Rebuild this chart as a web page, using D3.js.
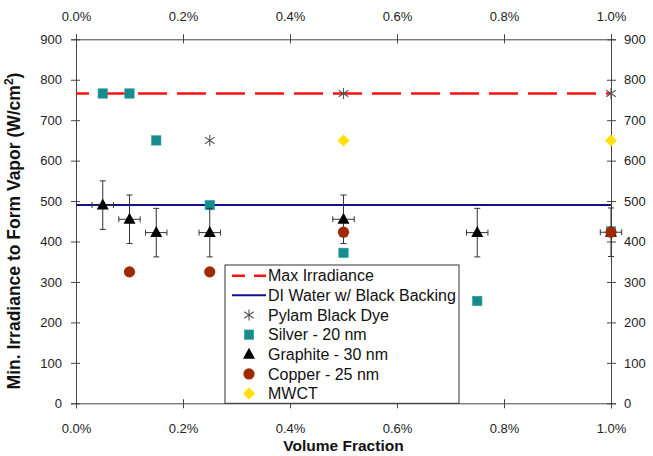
<!DOCTYPE html>
<html><head><meta charset="utf-8">
<script src="https://cdn.jsdelivr.net/npm/d3@7"></script>
<style>body{margin:0;background:#fff;} svg{display:block;font-family:"Liberation Sans",Arial,sans-serif;}</style>
</head><body><svg id="c" width="653" height="456"></svg>
<script>
// ---- data ----
const xTicks = [0, 0.002, 0.004, 0.006, 0.008, 0.010];
const yTicks = [0, 100, 200, 300, 400, 500, 600, 700, 800, 900];
const maxIrradiance = 766;
const diWater = 490;
const pylamX = [0.0025, 0.005, 0.010];
const pylamY = [650, 766, 766];
const silverX = [0.0005, 0.001, 0.0015, 0.0025, 0.005, 0.0075, 0.010];
const silverY = [766, 766, 650, 490, 372, 253, 425];
const graphiteX = [0.0005, 0.001, 0.0015, 0.0025, 0.005, 0.0075, 0.010];
const graphiteY = [490, 455, 422, 422, 455, 422, 423];
const graphiteErrY = [60, 60, 60, 60, 60, 60, 60];
const graphiteErrX = [0.0002, 0.0002, 0.0002, 0.0002, 0.0002, 0.0002, 0.0002];
const copperX = [0.001, 0.0025, 0.005, 0.010];
const copperY = [325, 325, 423, 423];
const mwctX = [0.005, 0.010];
const mwctY = [650, 650];
const legendLabels = ["Max Irradiance", "DI Water w/ Black Backing", "Pylam Black Dye",
  "Silver - 20 nm", "Graphite - 30 nm", "Copper - 25 nm", "MWCT"];
const xTitle = "Volume Fraction";

// ---- layout ----
const L = 76, R = 611, T = 39.3, B = 403.3;
const svg = d3.select("#c");
const x = d3.scaleLinear().domain([0, 0.01]).range([L, R]);
const y = d3.scaleLinear().domain([0, 900]).range([B, T]);
const fmt = d3.format(".1%");
const tickColor = "#444", labelColor = "#222";

function styleAxis(g, a, b, horizontal) {
  g.select(".domain").attr("stroke", tickColor);
  g.selectAll(".tick line").attr("stroke", tickColor)
    .attr(horizontal ? "y1" : "x1", a).attr(horizontal ? "y2" : "x2", b);
  g.selectAll(".tick text").attr("fill", labelColor).attr("font-size", 13);
}
const gl = svg.append("g").attr("transform", `translate(${L},0)`)
  .call(d3.axisLeft(y).tickValues(yTicks).tickSizeOuter(0).tickSize(5).tickPadding(9));
styleAxis(gl, -5, 4, false);
const gr = svg.append("g").attr("transform", `translate(${R},0)`)
  .call(d3.axisRight(y).tickValues(yTicks).tickSizeOuter(0).tickSize(5).tickPadding(8));
styleAxis(gr, -4, 5, false);
const gb = svg.append("g").attr("transform", `translate(0,${B})`)
  .call(d3.axisBottom(x).tickValues(xTicks).tickFormat(fmt).tickSizeOuter(0).tickSize(5).tickPadding(15));
styleAxis(gb, -4, 5, true);
const gt = svg.append("g").attr("transform", `translate(0,${T})`)
  .call(d3.axisTop(x).tickValues(xTicks).tickFormat(fmt).tickSizeOuter(0).tickSize(5).tickPadding(13));
styleAxis(gt, -5, 4, true);

// titles
svg.append("text").attr("x", (L + R) / 2).attr("y", 451).attr("text-anchor", "middle")
  .attr("font-weight", "bold").attr("font-size", 15.5).attr("fill", "#111").text(xTitle);
const yt = svg.append("text").attr("transform", `translate(20,231) rotate(-90)`)
  .attr("text-anchor", "middle").attr("font-weight", "bold").attr("font-size", 17.5).attr("fill", "#111");
yt.append("tspan").text("Min. Irradiance to Form Vapor (W/cm");
yt.append("tspan").attr("dy", -7).attr("font-size", 12).text("2");
yt.append("tspan").attr("dy", 7).text(")");

// reference lines
svg.append("line").attr("x1", x(0)).attr("x2", x(0.01)).attr("y1", y(maxIrradiance)).attr("y2", y(maxIrradiance))
  .attr("stroke", "#ff1010").attr("stroke-width", 2.5).attr("stroke-dasharray", "29,10").attr("stroke-dashoffset", 16);
svg.append("line").attr("x1", x(0)).attr("x2", x(0.01)).attr("y1", y(diWater)).attr("y2", y(diWater))
  .attr("stroke", "#101090").attr("stroke-width", 2);

// markers
const COL = {silver: "#178c8c", graphite: "#000", copper: "#a02a00", mwct: "#ffe000", pylam: "#555"};
function asterisk(g, cx, cy, s) {
  const p = `M${cx},${cy - s}L${cx},${cy + s}M${cx - s * 0.87},${cy - s * 0.6}L${cx + s * 0.87},${cy + s * 0.6}M${cx - s * 0.87},${cy + s * 0.6}L${cx + s * 0.87},${cy - s * 0.6}`;
  g.append("path").attr("d", p).attr("stroke", COL.pylam).attr("stroke-width", 1.1).attr("fill", "none");
}
function square(g, cx, cy) { g.append("rect").attr("x", cx - 4.7).attr("y", cy - 4.7).attr("width", 9.4).attr("height", 9.4).attr("fill", COL.silver).attr("stroke", "#2aa0a0").attr("stroke-width", 0.6); }
function triangle(g, cx, cy) { g.append("path").attr("d", `M${cx},${cy - 6.5}L${cx + 6},${cy + 4.5}L${cx - 6},${cy + 4.5}Z`).attr("fill", COL.graphite); }
function circle(g, cx, cy) { g.append("circle").attr("cx", cx).attr("cy", cy).attr("r", 5.6).attr("fill", COL.copper); }
function diamond(g, cx, cy) { g.append("path").attr("d", `M${cx},${cy - 6}L${cx + 6},${cy}L${cx},${cy + 6}L${cx - 6},${cy}Z`).attr("fill", COL.mwct); }

const m = svg.append("g");
pylamX.forEach((v, i) => asterisk(m, x(v), y(pylamY[i]), 5.5));
silverX.forEach((v, i) => square(m, x(v), y(silverY[i])));
graphiteX.forEach((v, i) => {
  const cx = x(v), cy = y(graphiteY[i]);
  const yt1 = y(graphiteY[i] + graphiteErrY[i]), yb = y(graphiteY[i] - graphiteErrY[i]);
  const xl = x(v - graphiteErrX[i]), xr = x(v + graphiteErrX[i]);
  const p = `M${cx},${yt1}L${cx},${yb}M${cx - 3},${yt1}L${cx + 3},${yt1}M${cx - 3},${yb}L${cx + 3},${yb}` +
    `M${xl},${cy}L${xr},${cy}M${xl},${cy - 3}L${xl},${cy + 3}M${xr},${cy - 3}L${xr},${cy + 3}`;
  m.append("path").attr("d", p).attr("stroke", "#333").attr("stroke-width", 1).attr("fill", "none");
  triangle(m, cx, cy);
});
copperX.forEach((v, i) => circle(m, x(v), y(copperY[i])));
mwctX.forEach((v, i) => diamond(m, x(v), y(mwctY[i])));

// legend
const lg = svg.append("g");
lg.append("rect").attr("x", 225).attr("y", 265).attr("width", 234).attr("height", B - 265)
  .attr("fill", "#fff").attr("stroke", "#333").attr("stroke-width", 1);
const ly0 = 275.7, ldy = 19.65, sx = 249;
legendLabels.forEach((t, i) => {
  const cy = ly0 + i * ldy;
  lg.append("text").attr("x", 268).attr("y", cy).attr("dy", "0.35em").attr("font-size", 16).attr("fill", "#111").text(t);
  if (i === 0) lg.append("line").attr("x1", 232).attr("x2", 266).attr("y1", cy).attr("y2", cy)
    .attr("stroke", "#ff1010").attr("stroke-width", 2.5).attr("stroke-dasharray", "13,9");
  else if (i === 1) lg.append("line").attr("x1", 232).attr("x2", 266).attr("y1", cy).attr("y2", cy)
    .attr("stroke", "#101090").attr("stroke-width", 2);
  else if (i === 2) asterisk(lg, sx, cy, 5.5);
  else if (i === 3) square(lg, sx, cy);
  else if (i === 4) triangle(lg, sx, cy);
  else if (i === 5) circle(lg, sx, cy);
  else diamond(lg, sx, cy);
});
</script></body></html>
